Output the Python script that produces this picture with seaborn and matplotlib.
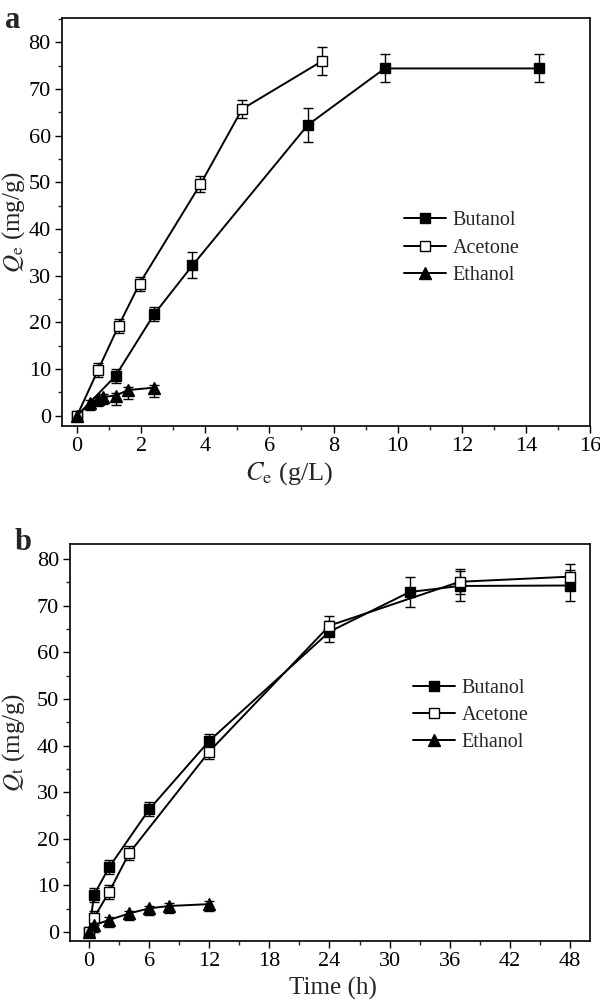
import matplotlib
matplotlib.use("Agg")
import matplotlib.pyplot as plt
from matplotlib.ticker import MultipleLocator
import seaborn as sns
import numpy as np

# ---- Panel a data (isotherm) ----
a_but_x = [0, 1.2, 2.4, 3.6, 7.2, 9.6, 14.4]
a_but_y = [0, 8.5, 21.7, 32.2, 62.3, 74.4, 74.4]
a_but_e = [0.8, 1.5, 1.5, 2.8, 3.6, 3.0, 3.0]
a_ace_x = [0, 0.65, 1.3, 1.95, 3.85, 5.15, 7.65]
a_ace_y = [0, 9.7, 19.3, 28.3, 49.6, 65.7, 76.0]
a_ace_e = [0.8, 1.5, 1.5, 1.5, 1.7, 2.0, 3.0]
a_eth_x = [0, 0.4, 0.65, 0.8, 1.2, 1.6, 2.4]
a_eth_y = [0, 2.7, 3.5, 4.0, 4.3, 5.5, 6.0]
a_eth_e = [0.8, 1.5, 1.5, 1.5, 2.0, 2.0, 2.0]

# ---- Panel b data (kinetics) ----
b_but_x = [0, 0.5, 2, 6, 12, 24, 32, 37, 48]
b_but_y = [0, 8.0, 13.9, 26.3, 41.0, 64.4, 72.9, 74.2, 74.3]
b_but_e = [0.8, 1.5, 1.5, 1.5, 1.5, 2.2, 3.2, 3.2, 3.4]
b_ace_x = [0, 0.5, 2, 4, 12, 24, 37, 48]
b_ace_y = [0, 3.1, 8.6, 16.9, 38.7, 65.7, 75.1, 76.2]
b_ace_e = [0.8, 1.5, 1.5, 1.5, 1.5, 2.0, 2.7, 2.7]
b_eth_x = [0, 0.5, 2, 4, 6, 8, 12]
b_eth_y = [0, 1.5, 2.6, 4.0, 5.1, 5.6, 6.0]
b_eth_e = [0.8, 1.5, 1.5, 1.5, 1.5, 1.5, 1.5]

labels = ["Butanol", "Acetone", "Ethanol"]

sns.set_style("ticks")
plt.rcParams["font.family"] = ["Liberation Serif", "DejaVu Serif"]
plt.rcParams["mathtext.fontset"] = "stix"
plt.rcParams["axes.linewidth"] = 1.2

fig = plt.figure(figsize=(6.0, 10.02), dpi=100)
ax_a = fig.add_axes([0.1033, 0.5749, 0.88, 0.4071])
ax_b = fig.add_axes([0.1167, 0.0609, 0.8666, 0.3962])

styles = [
    dict(marker="s", markerfacecolor="black", markersize=7.5),
    dict(marker="s", markerfacecolor="white", markersize=7.5),
    dict(marker="^", markerfacecolor="black", markersize=9),
]

def draw(ax, series):
    for i, ((x, y, e), lab, st) in enumerate(zip(series, labels, styles)):
        if i == 2:
            yerr = [e, [0.6] * len(e)]
        else:
            yerr = e
        ax.errorbar(x, y, yerr=yerr, fmt="none", ecolor="black", elinewidth=1.0,
                    capsize=3.5, capthick=1.0, zorder=2)
        sns.lineplot(x=x, y=y, ax=ax, color="black", linewidth=1.4,
                     markeredgecolor="black", markeredgewidth=1.0,
                     label=lab, zorder=3, **st)

draw(ax_a, [(a_but_x, a_but_y, a_but_e), (a_ace_x, a_ace_y, a_ace_e), (a_eth_x, a_eth_y, a_eth_e)])
draw(ax_b, [(b_but_x, b_but_y, b_but_e), (b_ace_x, b_ace_y, b_ace_e), (b_eth_x, b_eth_y, b_eth_e)])

# axes a
ax_a.set_xlim(-0.47, 16)
ax_a.set_ylim(-2.2, 85.2)
ax_a.xaxis.set_major_locator(MultipleLocator(2))
ax_a.xaxis.set_minor_locator(MultipleLocator(1))
ax_a.yaxis.set_major_locator(MultipleLocator(10))
ax_a.yaxis.set_minor_locator(MultipleLocator(5))
ax_a.set_xlabel("$C_\\mathrm{e}$ (g/L)", fontsize=19)
ax_a.set_ylabel("$Q_\\mathrm{e}$ (mg/g)", fontsize=18)
ax_a.xaxis.set_label_coords(0.43, -0.085)

# axes b
ax_b.set_xlim(-1.9, 50)
ax_b.set_ylim(-1.9, 83.2)
ax_b.xaxis.set_major_locator(MultipleLocator(6))
ax_b.xaxis.set_minor_locator(MultipleLocator(3))
ax_b.yaxis.set_major_locator(MultipleLocator(10))
ax_b.yaxis.set_minor_locator(MultipleLocator(5))
ax_b.set_xlabel("Time (h)", fontsize=18)
ax_b.set_ylabel("$Q_\\mathrm{t}$ (mg/g)", fontsize=18)
ax_b.xaxis.set_label_coords(0.505, -0.09)

for ax in (ax_a, ax_b):
    for s in ax.spines.values():
        s.set_visible(True)
        s.set_color("black")
        s.set_linewidth(1.2)
    ax.tick_params(which="major", direction="out", length=5, width=1.0,
                   labelsize=16, colors="black", top=False, right=False, pad=3)
    ax.tick_params(which="minor", direction="out", length=3, width=1.0,
                   top=False, right=False)
    ax.grid(False)

ax_a.yaxis.set_label_coords(-0.067, 0.5)
ax_b.yaxis.set_label_coords(-0.082, 0.5)

leg_kw = dict(loc="upper left", frameon=False, fontsize=14.5, handlelength=2.1,
              handletextpad=0.3, labelspacing=0.4, borderpad=0, borderaxespad=0,
              numpoints=1)
ax_a.legend(bbox_to_anchor=(0.648, 0.526), **leg_kw)
ax_b.legend(bbox_to_anchor=(0.66, 0.66), **leg_kw)

fig.text(0.008, 1 - 28 / 1002, "a", fontsize=22, fontweight="bold", va="baseline", ha="left")
fig.text(0.025, 1 - 550 / 1002, "b", fontsize=22, fontweight="bold", va="baseline", ha="left")

fig.savefig("out.png", dpi=100)
